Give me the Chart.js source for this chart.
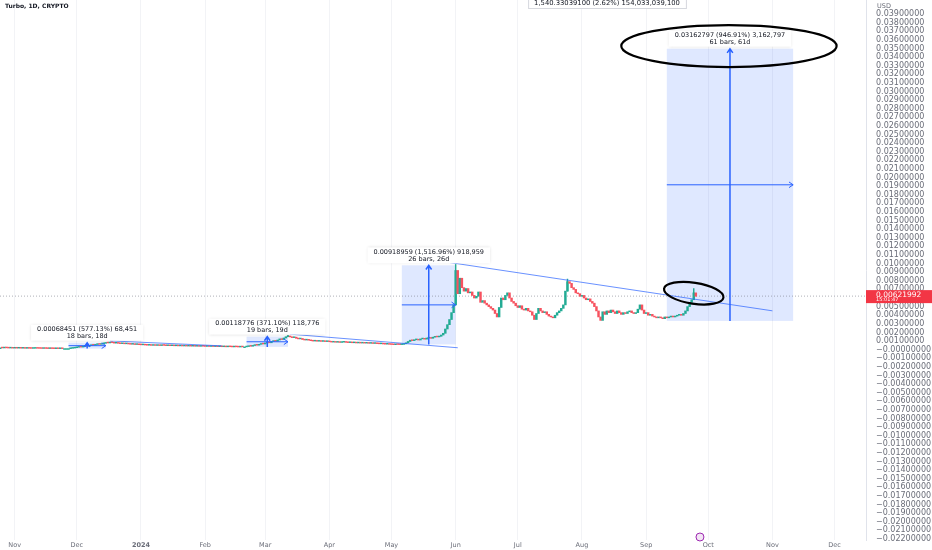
<!DOCTYPE html>
<html>
<head>
<meta charset="utf-8">
<script src="https://cdn.jsdelivr.net/npm/chart.js@4.4.1/dist/chart.umd.min.js"></script>
<style>
  html, body { margin: 0; padding: 0; background: #fff; }
  #wrap { width: 932px; height: 550px; }
</style>
</head>
<body>
<div id="wrap"><canvas id="myChart"></canvas></div>
<script>
// Turbo / USD daily closes, first candle on firstDay
const firstDay = '2023-10-25';
const closesOct23 = [0.00021,0.00020,0.00022,0.00021,0.00019,0.00020,0.00018];
const closesNov23 = [0.00019,0.00018,0.00019,0.00017,0.00018,0.00016,0.00017,0.00016,0.00015,0.00016,
  0.00017,0.00016,0.00015,0.00014,0.00015,0.00014,0.00013,0.00014,0.00013,0.00012,
  0.00013,0.00012,0.00013,0.00012,0.00012,0.00012,0.00012,0.00016,0.00019,0.00023];
const closesDec23 = [0.00028,0.00032,0.00030,0.00036,0.00042,0.00040,0.00048,0.00055,0.00052,0.00060,
  0.00066,0.00062,0.00070,0.00074,0.00080,0.00078,0.00088,0.00082,0.00076,0.00080,
  0.00074,0.00070,0.00072,0.00068,0.00071,0.00066,0.00063,0.00065,0.00060,0.00062,0.00058];
const closesJan24 = [0.00056,0.00060,0.00054,0.00052,0.00055,0.00050,0.00053,0.00049,0.00051,0.00048,
  0.00052,0.00050,0.00047,0.00049,0.00046,0.00048,0.00045,0.00047,0.00044,0.00046,
  0.00043,0.00045,0.00042,0.00044,0.00041,0.00043,0.00040,0.00042,0.00039,0.00041,0.00040];
const closesFeb24 = [0.00038,0.00040,0.00037,0.00039,0.00036,0.00038,0.00035,0.00037,0.00034,0.00036,
  0.00033,0.00035,0.00034,0.00032,0.00034,0.00033,0.00031,0.00033,0.00032,0.00032,
  0.00036,0.00042,0.00040,0.00048,0.00055,0.00052,0.00062,0.00070,0.00066];
const closesMar24 = [0.00078,0.00085,0.00080,0.00095,0.00105,0.00098,0.00112,0.00125,0.00118,0.00135,
  0.00150,0.00158,0.00148,0.00140,0.00145,0.00132,0.00125,0.00130,0.00118,0.00112,
  0.00120,0.00110,0.00104,0.00100,0.00106,0.00098,0.00102,0.00096,0.00100,0.00094,0.00097];
const closesApr24 = [0.00092,0.00088,0.00091,0.00086,0.00089,0.00084,0.00087,0.00090,0.00085,0.00082,
  0.00086,0.00080,0.00083,0.00078,0.00081,0.00077,0.00080,0.00076,0.00079,0.00074,
  0.00077,0.00072,0.00075,0.00070,0.00068,0.00071,0.00066,0.00064,0.00066,0.00062];
const closesMay24 = [0.00060,0.00058,0.00062,0.00060,0.00059,0.00061,0.00068,0.00080,0.00095,0.00110,
  0.00105,0.00115,0.00120,0.00112,0.00125,0.00130,0.00122,0.00135,0.00140,0.00132,
  0.00145,0.00150,0.00148,0.00155,0.00170,0.00190,0.00240,0.00290,0.00350,0.00430,0.00520];
const closesJun24 = [0.0092,0.0065,0.0083,0.0072,0.0068,0.0071,0.0066,0.0067,0.0063,0.0060,
  0.0062,0.0067,0.0055,0.0057,0.0054,0.0052,0.0050,0.0048,0.0046,0.0042,
  0.0038,0.0049,0.0060,0.0058,0.0063,0.0066,0.0060,0.0056,0.0054,0.0051];
const closesJul24 = [0.0049,0.0051,0.0047,0.0046,0.0048,0.0045,0.0044,0.0040,0.0035,0.0042,
  0.0048,0.0045,0.0043,0.0044,0.0041,0.0039,0.0038,0.0037,0.0040,0.0043,
  0.0045,0.0048,0.0052,0.0068,0.0079,0.0077,0.0072,0.0070,0.0066,0.0065,0.0062];
const closesAug24 = [0.0063,0.0060,0.0058,0.0059,0.0056,0.0054,0.0050,0.0045,0.0038,0.0034,
  0.0044,0.0041,0.0045,0.0043,0.0046,0.0044,0.0042,0.0045,0.0043,0.0041,
  0.0043,0.0042,0.0044,0.0045,0.0043,0.0042,0.0043,0.0047,0.0052,0.0046,0.0042];
const closesSep24 = [0.0043,0.0040,0.0041,0.0039,0.0038,0.0037,0.0038,0.0037,0.0036,0.0038,
  0.0037,0.0038,0.0039,0.0038,0.0039,0.0040,0.0041,0.0040,0.0042,0.0045,
  0.0050,0.0055,0.0058,0.0066,0.0062];

// wicks that stick out above the bodies
const wickPeaks = [['2024-03-12', 0.00165], ['2024-06-01', 0.0099], ['2024-07-25', 0.0082], ['2024-09-24', 0.0071]];

const lastPrice = 0.00621992;

const monthTicks = ['2023-11-01','2023-12-01','2024-01-01','2024-02-01','2024-03-01','2024-04-01','2024-05-01',
  '2024-06-01','2024-07-01','2024-08-01','2024-09-01','2024-10-01','2024-11-01','2024-12-01'];
const monthLabels = ['Nov','Dec','2024','Feb','Mar','Apr','May','Jun','Jul','Aug','Sep','Oct','Nov','Dec'];

// drawn trend lines [date, price] -> [date, price]
const trendLines = [
  [['2023-12-17', 0.00102], ['2024-02-09', 0.00044]],
  [['2024-03-13', 0.00180], ['2024-06-02', 0.00022]],
  [['2024-05-27', 0.01020], ['2024-11-01', 0.00451]]
];

// price range measurements
const rangeFrom = ['2023-11-27', '2024-02-21', '2024-05-06', '2024-09-11'];
const rangeTo   = ['2023-12-15', '2024-03-12', '2024-06-01', '2024-11-11'];
const rangeLow  = [0.000119, 0.00032, 0.000606, 0.00334];
const rangeHigh = [0.000803, 0.00151, 0.009796, 0.03497];
const rangeTextTop = ['0.00068451 (577.13%) 68,451', '0.00118776 (371.10%) 118,776',
  '0.00918959 (1,516.96%) 918,959', '0.03162797 (946.91%) 3,162,797'];
const rangeTextBottom = ['18 bars, 18d', '19 bars, 19d', '26 bars, 26d', '61 bars, 61d'];

// hand drawn circles: center date, center price, half width (days), half height (price), tilt
const circleAt = ['2024-10-11', '2024-09-24'];
const circlePrice = [0.03528, 0.00656];
const circleDays = [52, 14.5];
const circleRise = [0.00244, 0.00122];
const circleTilt = [0, 0.15];

const t0 = Date.UTC(2024, 0, 1);
function dayOf(s) {
  const p = s.split('-').map(Number);
  return (Date.UTC(p[0], p[1] - 1, p[2]) - t0) / 864e5;
}

const closes = [].concat(closesOct23, closesNov23, closesDec23, closesJan24, closesFeb24, closesMar24,
  closesApr24, closesMay24, closesJun24, closesJul24, closesAug24, closesSep24);
const start = dayOf(firstDay);
const candles = closes.map((c, i) => ({ x: start + i, o: i ? closes[i - 1] : c, c: c }));

const up = '#22ab94', down = '#f7525f';
const blue = '#2962ff';
const font = 'DejaVu Sans';

const xMin = -68.1, xMax = 350.2;

const datasets = [
  {
    type: 'bar',
    data: candles.map(k => ({ x: k.x, y: [k.o, k.c] })),
    backgroundColor: candles.map(k => k.c >= k.o ? up : down),
    barThickness: 1.8,
    minBarLength: 0.8,
    grouped: false,
    order: 2
  },
  {
    type: 'bar',
    data: wickPeaks.map(w => {
      const k = candles[dayOf(w[0]) - start];
      return { x: k.x, y: [Math.min(k.o, k.c), w[1]] };
    }),
    backgroundColor: wickPeaks.map(w => {
      const k = candles[dayOf(w[0]) - start];
      return k.c >= k.o ? up : down;
    }),
    barThickness: 0.8,
    grouped: false,
    order: 2
  }
];

trendLines.forEach(t => {
  datasets.push({
    type: 'line',
    data: t.map(p => ({ x: dayOf(p[0]), y: p[1] })),
    borderColor: 'rgba(41,98,255,0.7)',
    borderWidth: 1,
    pointRadius: 0,
    order: 1
  });
});

datasets.push({
  type: 'line',
  data: [{ x: xMin, y: lastPrice }, { x: xMax, y: lastPrice }],
  borderColor: 'rgba(120,123,134,0.6)',
  borderWidth: 1,
  borderDash: [1, 2],
  pointRadius: 0,
  order: 3
});

function arrow(ctx, x1, y1, x2, y2) {
  ctx.beginPath();
  ctx.moveTo(x1, y1);
  ctx.lineTo(x2, y2);
  const a = Math.atan2(y2 - y1, x2 - x1);
  ctx.moveTo(x2 - 5 * Math.cos(a - 0.6), y2 - 5 * Math.sin(a - 0.6));
  ctx.lineTo(x2, y2);
  ctx.lineTo(x2 - 5 * Math.cos(a + 0.6), y2 - 5 * Math.sin(a + 0.6));
  ctx.stroke();
}

const overlay = {
  id: 'overlay',
  beforeDatasetsDraw(chart) {
    const ctx = chart.ctx, x = chart.scales.x, y = chart.scales.y;
    ctx.save();
    ctx.fillStyle = 'rgba(41,98,255,0.15)';
    rangeFrom.forEach((d, i) => {
      const x1 = x.getPixelForValue(dayOf(d)), x2 = x.getPixelForValue(dayOf(rangeTo[i]));
      const y1 = y.getPixelForValue(rangeHigh[i]), y2 = y.getPixelForValue(rangeLow[i]);
      ctx.fillRect(x1, y1, x2 - x1, y2 - y1);
    });
    ctx.restore();
  },
  afterDatasetsDraw(chart) {
    const ctx = chart.ctx, x = chart.scales.x, y = chart.scales.y;
    ctx.save();
    rangeFrom.forEach((d, i) => {
      const x1 = x.getPixelForValue(dayOf(d)), x2 = x.getPixelForValue(dayOf(rangeTo[i]));
      const y1 = y.getPixelForValue(rangeHigh[i]), y2 = y.getPixelForValue(rangeLow[i]);
      const cx = (x1 + x2) / 2, cy = (y1 + y2) / 2;
      ctx.strokeStyle = blue;
      ctx.lineWidth = 1.5;
      arrow(ctx, cx, y2, cx, y1);
      ctx.lineWidth = 1;
      arrow(ctx, x1, cy, x2, cy);

      ctx.font = '6.5px ' + font;
      const w = Math.max(ctx.measureText(rangeTextTop[i]).width, ctx.measureText(rangeTextBottom[i]).width) + 12;
      const h = 16;
      const bx = cx - w / 2, by = y1 - h - 2;
      ctx.shadowColor = 'rgba(0,0,0,0.18)';
      ctx.shadowBlur = 3;
      ctx.fillStyle = '#fff';
      ctx.fillRect(bx, by, w, h);
      ctx.shadowColor = 'transparent';
      ctx.fillStyle = '#131722';
      ctx.textAlign = 'center';
      ctx.textBaseline = 'middle';
      ctx.fillText(rangeTextTop[i], cx, by + 4.5);
      ctx.fillText(rangeTextBottom[i], cx, by + 11.5);
    });

    ctx.strokeStyle = '#000';
    ctx.lineWidth = 2.2;
    circleAt.forEach((d, i) => {
      const cx = x.getPixelForValue(dayOf(d));
      const cy = y.getPixelForValue(circlePrice[i]);
      const rx = x.getPixelForValue(dayOf(d) + circleDays[i]) - cx;
      const ry = cy - y.getPixelForValue(circlePrice[i] + circleRise[i]);
      ctx.beginPath();
      ctx.ellipse(cx, cy, rx, ry, circleTilt[i], 0, Math.PI * 2);
      ctx.stroke();
    });
    ctx.restore();
  },
  afterDraw(chart) {
    const ctx = chart.ctx, x = chart.scales.x, y = chart.scales.y, area = chart.chartArea;
    ctx.save();
    ctx.textBaseline = 'middle';
    ctx.textAlign = 'left';
    ctx.fillStyle = '#131722';
    ctx.font = 'bold 6px ' + font;
    ctx.fillText('Turbo, 1D, CRYPTO', 5, 6);

    ctx.font = '6.8px ' + font;
    const info = '1,540.33039100 (2.62%) 154,033,039,100';
    const iw = ctx.measureText(info).width + 12;
    ctx.fillStyle = '#fff';
    ctx.strokeStyle = '#d6d8de';
    ctx.lineWidth = 1;
    ctx.fillRect(607 - iw / 2, -2, iw, 11);
    ctx.strokeRect(607.5 - iw / 2, -1.5, iw, 10);
    ctx.fillStyle = '#131722';
    ctx.textAlign = 'center';
    ctx.fillText(info, 607, 3.5);

    ctx.textAlign = 'left';
    ctx.font = '6.5px ' + font;
    ctx.fillStyle = '#6a6d78';
    ctx.fillText('USD', area.right + 11, 6);

    const py = y.getPixelForValue(lastPrice);
    ctx.fillStyle = '#f23645';
    ctx.fillRect(area.right, py - 6, chart.width - area.right, 13);
    ctx.fillStyle = '#fff';
    ctx.font = '7.5px ' + font;
    ctx.fillText(lastPrice.toFixed(8), area.right + 10, py - 1.5);
    ctx.font = '5px ' + font;
    ctx.fillText('15:01:47', area.right + 10, py + 4);

    const ex = x.getPixelForValue(dayOf('2024-09-27'));
    ctx.strokeStyle = '#9c27b0';
    ctx.fillStyle = 'rgba(156,39,176,0.12)';
    ctx.lineWidth = 1;
    ctx.beginPath();
    ctx.arc(ex, area.bottom - 3, 4, 0, Math.PI * 2);
    ctx.fill();
    ctx.stroke();
    ctx.restore();
  }
};

new Chart(document.getElementById('myChart'), {
  type: 'bar',
  data: { datasets: datasets },
  options: {
    responsive: true,
    maintainAspectRatio: false,
    animation: false,
    events: [],
    layout: { padding: 0 },
    plugins: { legend: { display: false }, tooltip: { enabled: false } },
    scales: {
      x: {
        type: 'linear',
        min: xMin,
        max: xMax,
        offset: false,
        afterBuildTicks: axis => { axis.ticks = monthTicks.map(d => ({ value: dayOf(d) })); },
        afterFit: axis => { axis.height = 10; axis.paddingLeft = 0; axis.paddingRight = 0; },
        ticks: {
          autoSkip: false,
          maxRotation: 0,
          padding: 1,
          color: '#6a6d78',
          font: c => ({ family: font, size: 6.5, weight: c.tick && c.index === 2 ? 'bold' : 'normal' }),
          callback: (v, i) => monthLabels[i]
        },
        grid: { color: '#f2f3f6', drawTicks: false, offset: false },
        border: { display: false }
      },
      y: {
        type: 'linear',
        position: 'right',
        min: -0.02212,
        max: 0.04063,
        afterBuildTicks: axis => { axis.ticks = axis.ticks.filter(t => t.value < 0.0395); },
        afterFit: axis => { axis.width = 66; axis.paddingTop = 0; axis.paddingBottom = 0; },
        ticks: {
          stepSize: 0.001,
          includeBounds: false,
          autoSkip: false,
          padding: 10,
          color: '#6a6d78',
          font: { family: font, size: 8, lineHeight: 1 },
          callback: v => (v < 1e-9 ? '\u2212' : '') + Math.abs(v).toFixed(8)
        },
        grid: { display: false, drawTicks: false },
        border: { display: true, color: '#e0e3eb' }
      }
    }
  },
  plugins: [overlay]
});
</script>
</body>
</html>
